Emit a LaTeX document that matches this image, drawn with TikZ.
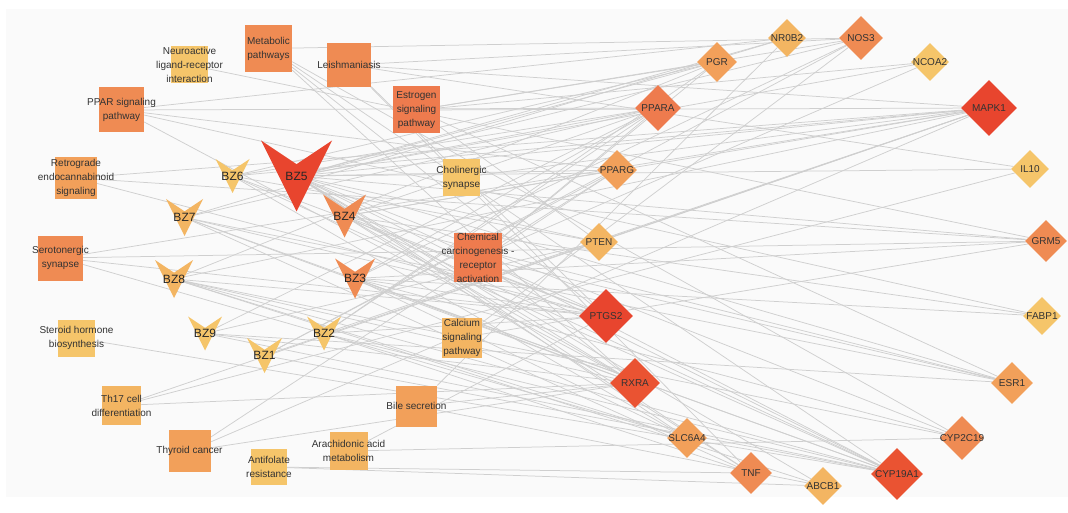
\documentclass[tikz,border=0pt]{standalone}
\usepackage{fontspec}
\setmainfont{Liberation Sans}
\usetikzlibrary{shapes.geometric}

\pgfdeclarelayer{edgelayer}
\pgfsetlayers{edgelayer,main}

% degree colours, from high (red) to low (yellow)
\definecolor{heatA}{HTML}{E8452E}
\definecolor{heatB}{HTML}{EA5332}
\definecolor{heatC}{HTML}{EE7B4E}
\definecolor{heatD}{HTML}{EF8B53}
\definecolor{heatE}{HTML}{F2A05A}
\definecolor{heatF}{HTML}{F3B562}
\definecolor{heatG}{HTML}{F5C56A}
\definecolor{panel}{HTML}{FAFAFA}
\definecolor{edgegray}{HTML}{CFCFCF}

\begin{document}
\begin{tikzpicture}[x=1pt,y=-1pt,
    edge/.style={draw=edgegray, line width=0.75pt},
    pathbox/.style={rectangle, minimum size=#1, inner sep=0pt},
    target/.style={diamond, minimum size=#1, inner sep=0pt},
    boxlabel/.style={font=\fontsize{10}{14}\selectfont, text=black!80, align=center},
    targetlabel/.style={font=\fontsize{10}{12}\selectfont, text=black!80},
    vlabel/.style={font=\fontsize{12}{14}\selectfont, text=black!85}]

    \useasboundingbox (0,0) rectangle (1068,513);

    % Pathway squares
    \node[pathbox=47, fill=heatD, label={[boxlabel]center:Metabolic\\pathways}] (met) at (268.5,48.5) {};
    \node[pathbox=37, fill=heatG, label={[boxlabel]center:Neuroactive\\ligand-receptor\\interaction}] (neu) at (189.5,65) {};
    \node[pathbox=44, fill=heatD, label={[boxlabel]center:Leishmaniasis}] (lei) at (349,65) {};
    \node[pathbox=45, fill=heatD, label={[boxlabel]center:PPAR signaling\\pathway}] (ppar) at (121.5,110) {};
    \node[pathbox=47, fill=heatC, label={[boxlabel]center:Estrogen\\signaling\\pathway}] (est) at (416.5,110) {};
    \node[pathbox=42, fill=heatE, label={[boxlabel]center:Retrograde\\endocannabinoid\\signaling}] (ret) at (76,178) {};
    \node[pathbox=37, fill=heatG, label={[boxlabel]center:Cholinergic\\synapse}] (cho) at (461.5,177.5) {};
    \node[pathbox=45, fill=heatD, label={[boxlabel]center:Serotonergic\\synapse}] (ser) at (60.5,258) {};
    \node[pathbox=48, fill=heatC, label={[boxlabel]center:Chemical\\carcinogenesis -\\receptor\\activation}] (chem) at (478,257.5) {};
    \node[pathbox=37, fill=heatG, label={[boxlabel]center:Steroid hormone\\biosynthesis}] (ste) at (76.5,338) {};
    \node[pathbox=40, fill=heatF, label={[boxlabel]center:Calcium\\signaling\\pathway}] (cal) at (462,337.5) {};
    \node[pathbox=39, fill=heatF, label={[boxlabel]center:Th17 cell\\differentiation}] (th17) at (121.5,405.5) {};
    \node[pathbox=41, fill=heatE, label={[boxlabel]center:Bile secretion}] (bile) at (416.5,406) {};
    \node[pathbox=42, fill=heatE, label={[boxlabel]center:Thyroid cancer}] (thy) at (189.5,451) {};
    \node[pathbox=36, fill=heatG, label={[boxlabel]center:Antifolate\\resistance}] (anti) at (269,467) {};
    \node[pathbox=38, fill=heatF, label={[boxlabel]center:Arachidonic acid\\metabolism}] (ara) at (348.5,451) {};

    % Target diamonds
    \foreach \n/\x/\y/\s/\c/\t in {pgr/717/62/40/heatE/PGR, nr0b2/787/38/38/heatF/NR0B2,
        nos3/861/38/44/heatD/NOS3, ncoa2/930/62/38/heatG/NCOA2, mapk1/989/108/56/heatA/MAPK1,
        il10/1030/169/38/heatG/IL10, grm5/1046/241/42/heatD/GRM5, fabp1/1042/316/38/heatG/FABP1,
        esr1/1012/383/42/heatE/ESR1, cyp2c19/962/438/44/heatD/CYP2C19, cyp19a1/897/474/52/heatB/CYP19A1,
        abcb1/823/486/38/heatF/ABCB1, tnf/751/473/42/heatD/TNF, slc6a4/687/438/40/heatE/SLC6A4,
        rxra/635/383/50/heatB/RXRA, ptgs2/606/316/54/heatA/PTGS2, pten/599/242/38/heatF/PTEN,
        pparg/617/170/40/heatE/PPARG, ppara/658/108/46/heatC/PPARA}
        \node[target=\s, fill=\c, label={[targetlabel]center:\t}] (\n) at (\x,\y) {};

    % Compound vees
    \foreach \n/\x/\y/\s/\c/\t in {bz5/296.5/176/71/heatA/BZ5, bz6/232.5/176/34/heatG/BZ6,
        bz7/184.5/217.5/37/heatF/BZ7, bz4/344.5/216/43/heatD/BZ4, bz8/174/279/38/heatF/BZ8,
        bz3/355/278.5/40/heatD/BZ3, bz9/205/333.5/34/heatG/BZ9, bz2/324/333.5/34/heatG/BZ2,
        bz1/264.5/355.5/35/heatG/BZ1}
    {
        \coordinate (\n) at (\x,\y);
        \fill[\c] (\x-\s/2,\y-\s/2) -- (\x,\y-\s/6) -- (\x+\s/2,\y-\s/2) -- (\x,\y+\s/2) -- cycle;
        \node[vlabel] (\n-label) at (\n) {\t};
    }

    % Edges behind the nodes
    \begin{pgfonlayer}{edgelayer}
        \fill[panel] (6,9) rectangle (1068,497);
        \foreach \b in {nos3,ptgs2,cyp19a1,cyp2c19,rxra} \draw[edge] (met) -- (\b);
        \foreach \b in {grm5} \draw[edge] (neu) -- (\b);
        \foreach \b in {mapk1,ptgs2,tnf,il10,nos3} \draw[edge] (lei) -- (\b);
        \foreach \b in {ppara,pparg,rxra,fabp1,nr0b2} \draw[edge] (ppar) -- (\b);
        \foreach \b in {pgr,ncoa2,esr1,mapk1,nos3,pten} \draw[edge] (est) -- (\b);
        \foreach \b in {mapk1,ptgs2,grm5} \draw[edge] (ret) -- (\b);
        \foreach \b in {mapk1} \draw[edge] (cho) -- (\b);
        \foreach \b in {mapk1,ptgs2,slc6a4,grm5} \draw[edge] (ser) -- (\b);
        \foreach \b in {pgr,esr1,rxra,ppara,pparg,cyp19a1,ncoa2} \draw[edge] (chem) -- (\b);
        \foreach \b in {cyp19a1} \draw[edge] (ste) -- (\b);
        \foreach \b in {nos3,grm5} \draw[edge] (cal) -- (\b);
        \foreach \b in {mapk1,rxra,il10} \draw[edge] (th17) -- (\b);
        \foreach \b in {abcb1,rxra,nr0b2} \draw[edge] (bile) -- (\b);
        \foreach \b in {pparg,rxra,mapk1} \draw[edge] (thy) -- (\b);
        \foreach \b in {abcb1,tnf} \draw[edge] (anti) -- (\b);
        \foreach \b in {ptgs2,cyp2c19} \draw[edge] (ara) -- (\b);
        \foreach \b in {ppara,pparg,pgr,nr0b2,nos3,ncoa2,mapk1,il10,grm5,esr1,cyp2c19,cyp19a1,tnf,ptgs2,rxra,slc6a4,pten,abcb1}
            \draw[edge] (bz5) -- (\b);
        \foreach \b in {ppara,pparg,ptgs2,rxra,cyp19a1,tnf,mapk1,esr1,fabp1} \draw[edge] (bz4) -- (\b);
        \foreach \b in {ppara,rxra,ptgs2,cyp19a1,cyp2c19,grm5,slc6a4,nos3,fabp1} \draw[edge] (bz3) -- (\b);
        \foreach \b in {ppara,pgr,mapk1,ptgs2,cyp19a1,slc6a4,pten} \draw[edge] (bz6) -- (\b);
        \foreach \b in {ptgs2,rxra,cyp19a1,tnf,esr1,ppara,nr0b2} \draw[edge] (bz7) -- (\b);
        \foreach \b in {rxra,ptgs2,cyp19a1,cyp2c19,abcb1,mapk1,slc6a4,pgr} \draw[edge] (bz8) -- (\b);
        \foreach \b in {ppara,rxra,cyp19a1,pten,esr1} \draw[edge] (bz9) -- (\b);
        \foreach \b in {ppara,mapk1,cyp19a1,tnf,ptgs2,pgr} \draw[edge] (bz2) -- (\b);
        \foreach \b in {pparg,mapk1,cyp19a1,nos3} \draw[edge] (bz1) -- (\b);
    \end{pgfonlayer}

\end{tikzpicture}
\end{document}
